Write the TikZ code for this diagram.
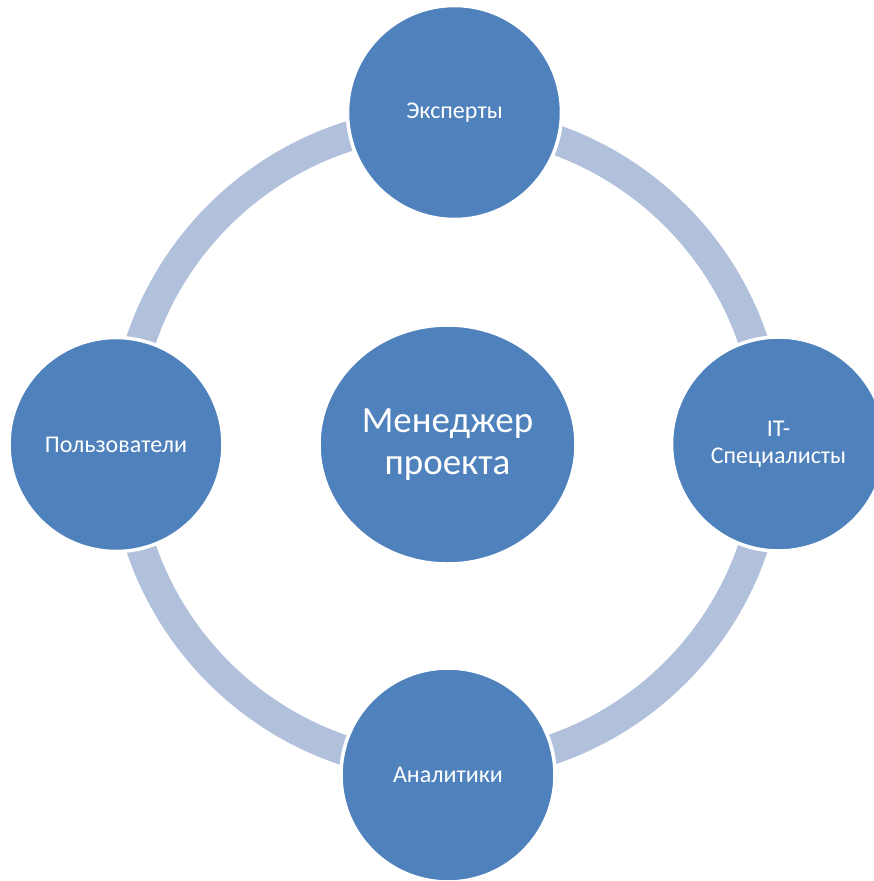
\documentclass[tikz,border=0pt]{standalone}
\usepackage{fontspec}
\setmainfont{Carlito}
\usetikzlibrary{shapes.geometric}

\definecolor{roleblue}{RGB}{79,129,189}
\definecolor{ringblue}{RGB}{177,193,220}

\tikzset{every picture/.style={line width=0.75pt}}
\tikzset{
  role/.style={circle, fill=roleblue, draw=white, line width=3.5pt,
    minimum size=214pt, inner sep=0pt, text=white, align=center,
    font=\fontsize{24}{27}\selectfont},
  hub/.style={ellipse, fill=roleblue, draw=white, line width=3.5pt,
    minimum width=257pt, minimum height=239pt, inner sep=0pt, text=white,
    align=center, font=\fontsize{37}{42}\selectfont},
  ring/.style={draw=ringblue, line width=30pt}
}

\begin{document}
\begin{tikzpicture}[x=1pt,y=1pt,yscale=-1]
\useasboundingbox (0,0) rectangle (874,881);
\clip (0,0) rectangle (874,881);

%Center: project manager
\node [hub] (manager) at (447.5,444.5) {Менеджер\\проекта};

%Ring behind the four roles
\draw [ring] (447,444) circle (323);

%Roles around the ring
\node [role] (experts) at (454.5,112.5) {Эксперты};
\node [role] (itspec) at (778.5,444) {IT-\\Специалисты};
\node [role] (analysts) at (448,775) {Аналитики};
\node [role] (users) at (116,444.5) {Пользователи};

\end{tikzpicture}
\end{document}
